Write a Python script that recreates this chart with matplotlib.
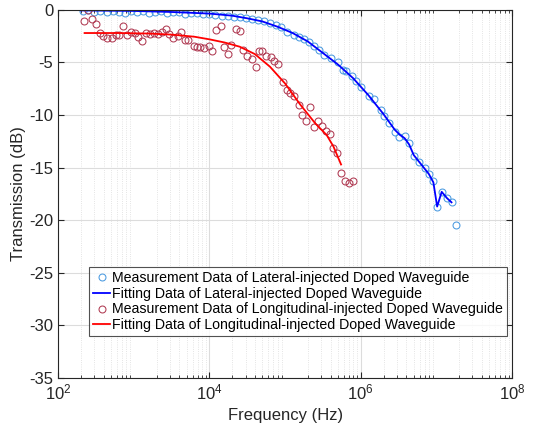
import numpy as np
import matplotlib
matplotlib.use("Agg")
from matplotlib import pyplot as plt
from matplotlib.ticker import LogLocator, FixedLocator, NullFormatter

# Lateral-injected: measurement (log10 f, dB)
lat_meas_logf = [2.33, 2.40, 2.48, 2.56, 2.64, 2.72, 2.80, 2.88, 2.96, 3.04,
                 3.12, 3.20, 3.28, 3.36, 3.44, 3.52, 3.60, 3.68, 3.76, 3.84,
                 3.92, 4.00, 4.08, 4.16, 4.24, 4.32, 4.40, 4.48, 4.56, 4.64,
                 4.72, 4.80, 4.88, 4.94, 5.03, 5.12, 5.18, 5.25, 5.32, 5.38,
                 5.45, 5.52, 5.61, 5.70, 5.77, 5.81, 5.88, 5.94, 6.01, 6.11,
                 6.18, 6.27, 6.31, 6.38, 6.45, 6.51, 6.58, 6.64, 6.70, 6.77,
                 6.85, 6.90, 6.96, 7.01, 7.07, 7.14, 7.20, 7.26]
lat_meas_db = [-0.1, 0.0, -0.2, -0.1, -0.2, -0.1, -0.2, -0.3, -0.1, -0.2,
               -0.1, -0.3, -0.2, -0.1, -0.3, -0.2, -0.2, -0.4, -0.3, -0.3,
               -0.4, -0.4, -0.5, -0.6, -0.6, -0.7, -0.7, -0.8, -0.9, -1.0,
               -1.1, -1.2, -1.4, -1.6, -2.1, -2.4, -2.6, -2.8, -3.1, -3.4,
               -3.8, -4.3, -4.6, -5.0, -5.7, -5.8, -6.3, -6.8, -7.3, -8.2,
               -8.5, -9.5, -10.1, -10.8, -11.6, -12.1, -12.0, -12.7, -13.9, -14.5,
               -15.0, -15.6, -16.3, -18.7, -17.3, -17.9, -18.3, -20.5]

# Lateral-injected: fitting
lat_fit_logf = [2.30, 3.00, 3.50, 4.00, 4.30, 4.50, 4.70, 4.90, 5.10, 5.30,
                5.50, 5.70, 5.90, 6.10, 6.30, 6.45, 6.52, 6.58, 6.64, 6.70,
                6.80, 6.90, 6.96, 7.01, 7.07, 7.14, 7.20]
lat_fit_db = [-0.05, -0.1, -0.2, -0.35, -0.55, -0.8, -1.1, -1.6, -2.2, -3.0,
              -4.1, -5.2, -6.5, -8.1, -9.9, -11.4, -11.9, -12.2, -12.8, -13.8,
              -14.7, -15.6, -16.4, -18.7, -17.3, -17.9, -18.3]

# Longitudinal-injected: measurement
lon_meas_logf = [2.34, 2.40, 2.45, 2.50, 2.55, 2.60, 2.65, 2.71, 2.76, 2.81,
                 2.86, 2.91, 2.96, 3.02, 3.06, 3.11, 3.16, 3.22, 3.27, 3.32,
                 3.37, 3.43, 3.47, 3.52, 3.58, 3.63, 3.68, 3.72, 3.79, 3.84,
                 3.88, 3.93, 3.99, 4.04, 4.09, 4.15, 4.19, 4.25, 4.29, 4.35,
                 4.40, 4.45, 4.50, 4.56, 4.61, 4.65, 4.70, 4.75, 4.81, 4.86,
                 4.91, 4.97, 5.02, 5.07, 5.12, 5.18, 5.23, 5.27, 5.33, 5.38,
                 5.43, 5.49, 5.54, 5.59, 5.63, 5.69, 5.74, 5.79, 5.85, 5.90]
lon_meas_db = [-1.1, 0.0, -0.9, -1.3, -2.2, -2.5, -2.7, -2.7, -2.4, -2.4,
               -1.5, -2.4, -2.1, -2.2, -2.6, -3.0, -2.2, -2.3, -2.2, -2.3,
               -2.1, -1.8, -2.3, -2.7, -2.5, -2.1, -2.9, -2.9, -3.4, -3.5,
               -3.5, -3.6, -3.4, -3.9, -1.9, -1.5, -3.5, -4.2, -3.3, -1.8,
               -2.0, -3.8, -4.4, -4.7, -5.4, -3.9, -3.9, -4.4, -4.5, -4.9,
               -5.1, -6.9, -7.6, -7.9, -8.2, -9.0, -10.0, -10.6, -9.2, -11.1,
               -10.6, -11.0, -11.5, -11.8, -13.1, -13.6, -15.5, -16.3, -16.5, -16.3]

# Longitudinal-injected: fitting
lon_fit_logf = [2.35, 2.80, 3.20, 3.50, 3.80, 4.00, 4.20, 4.40, 4.60, 4.80,
                5.00, 5.20, 5.40, 5.55, 5.64, 5.74]
lon_fit_db = [-2.2, -2.2, -2.25, -2.35, -2.55, -2.8, -3.1, -3.5, -4.2, -5.4,
              -7.0, -9.0, -10.8, -11.9, -13.0, -14.7]

labels = [
    "Measurement Data of Lateral-injected Doped Waveguide",
    "Fitting Data of Lateral-injected Doped Waveguide",
    "Measurement Data of Longitudinal-injected Doped Waveguide",
    "Fitting Data of Longitudinal-injected Doped Waveguide",
]

plt.rcParams["font.family"] = ["Liberation Sans", "DejaVu Sans"]

fig = plt.figure(figsize=(5.43, 4.30), dpi=100)
ax = fig.add_axes([0.107, 0.121, 0.836, 0.856])

mk = dict(linestyle="none", marker="o", markersize=5.0, markerfacecolor="none",
          markeredgewidth=0.75)
ax.plot(10 ** np.array(lat_meas_logf), lat_meas_db, color="#4a9ae0",
        label=labels[0], **mk)
ax.plot(10 ** np.array(lat_fit_logf), lat_fit_db, color="#0000ff", lw=1.3,
        label=labels[1])
ax.plot(10 ** np.array(lon_meas_logf), lon_meas_db, color="#b03a52",
        label=labels[2], **mk)
ax.plot(10 ** np.array(lon_fit_logf), lon_fit_db, color="#ff0000", lw=1.3,
        label=labels[3])

ax.set_xscale("log")
ax.set_xlim(1e2, 1e8)
ax.set_ylim(-35, 0)
ax.xaxis.set_major_locator(FixedLocator([1e2, 1e4, 1e6, 1e8]))
ax.xaxis.set_minor_locator(LogLocator(base=10, subs=np.arange(2, 10), numticks=20))
ax.xaxis.set_minor_formatter(NullFormatter())
ax.set_xticklabels(["$\\mathregular{10^2}$", "$\\mathregular{10^4}$",
                    "$\\mathregular{10^6}$", "$\\mathregular{10^8}$"])
ax.set_yticks(np.arange(-35, 1, 5))
ax.set_yticklabels([str(v) for v in range(-35, 1, 5)])

ax.grid(True, which="major", color="#dcdcdc", lw=0.8)
ax.grid(True, which="minor", color="#dcdcdc", lw=0.6, linestyle=":")
ax.set_axisbelow(True)

ax.tick_params(which="both", direction="in", top=True, right=True,
               colors="#262626", labelsize=12)
ax.tick_params(which="major", length=4)
ax.tick_params(which="minor", length=2)
for s in ax.spines.values():
    s.set_color("#262626")
    s.set_linewidth(0.8)

ax.set_xlabel("Frequency (Hz)", fontsize=12, color="#262626")
ax.set_ylabel("Transmission (dB)", fontsize=12, color="#262626", labelpad=2)

leg = ax.legend(loc="upper left", bbox_to_anchor=(0.068, 0.302), fontsize=10.2,
                frameon=True, fancybox=False, edgecolor="#262626",
                borderpad=0.3, labelspacing=0.12, handlelength=1.2,
                handletextpad=0.15, borderaxespad=0)
leg.get_frame().set_linewidth(0.8)

fig.savefig("out.png", dpi=100)
